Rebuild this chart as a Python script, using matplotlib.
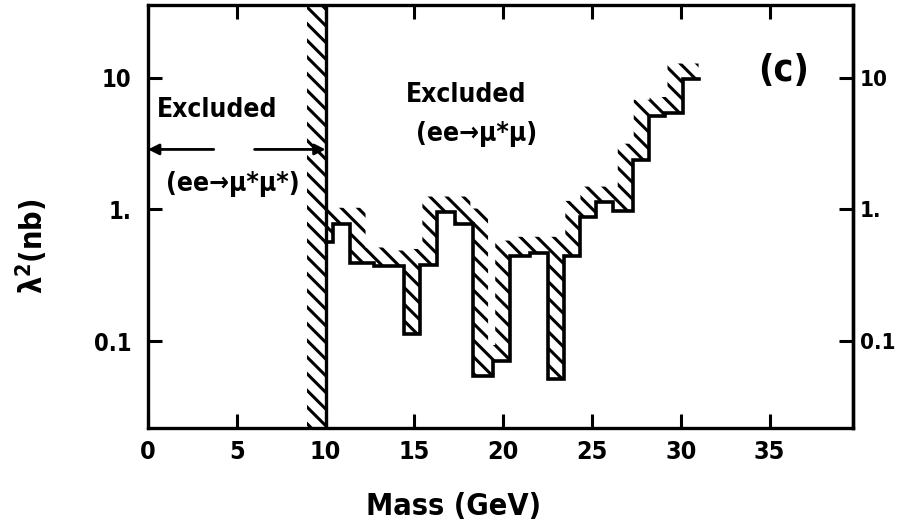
import numpy as np
import matplotlib
matplotlib.use("Agg")
import matplotlib.pyplot as plt
from matplotlib import font_manager as fm

# ---- data -------------------------------------------------------------
# excited-muon limit: step edges (GeV) and lambda^2 limit (nb) per step
mass_edges = [10.0, 10.4, 11.4, 12.7, 14.4, 15.3, 16.3, 17.3, 18.3, 19.4,
              20.4, 21.5, 22.5, 23.4, 24.35, 25.2, 26.2, 27.3, 28.2, 29.1,
              30.1, 31.0]
lambda2_limit = [0.57, 0.78, 0.39, 0.37, 0.113, 0.38, 0.95, 0.77, 0.054,
                 0.071, 0.44, 0.47, 0.052, 0.44, 0.88, 1.13, 0.97, 2.39,
                 5.15, 5.4, 9.7]
pair_limit_mass = 10.0          # ee -> mu* mu* excluded below this mass

x_ticks = [0, 5, 10, 15, 20, 25, 30, 35]
y_ticks = [0.1, 1, 10]
y_tick_labels = ["0.1", "1.", "10"]

# ---- fonts ------------------------------------------------------------
names = {f.name for f in fm.fontManager.ttflist}
if "Liberation Sans Narrow" in names:
    FAM, STRETCH = "Liberation Sans Narrow", "normal"
else:
    FAM, STRETCH = "DejaVu Sans", "condensed"
plt.rcParams["font.family"] = [FAM, "DejaVu Sans"]
plt.rcParams["font.stretch"] = STRETCH
plt.rcParams["font.weight"] = "bold"
plt.rcParams["axes.labelweight"] = "bold"
plt.rcParams["hatch.linewidth"] = 2.2
plt.rcParams["hatch.color"] = "black"

fig = plt.figure(figsize=(8.97, 5.25), dpi=100)
ax = fig.add_axes([0.165, 0.185, 0.786, 0.806])
ax.set_yscale("log")
ax.set_xlim(0, 39.7)
ax.set_ylim(0.022, 35.7)

# ---- limit curve ------------------------------------------------------
edges = np.array(mass_edges)
vals = np.array(lambda2_limit)
step_y = np.append(vals, vals[-1])
ax.step(edges, step_y, where="post", color="black", lw=2.6,
        solid_joinstyle="miter", zorder=3)

# hatched band on the excluded side of the curve
logv = np.log10(vals)
xs = np.linspace(edges[0], edges[-1], 6000)
idx = np.clip(np.searchsorted(edges, xs, side="right") - 1, 0, len(vals) - 1)
lo = logv[idx]
w, h = 0.85, 0.12
overlap = (edges[:-1][None, :] <= xs[:, None] + w) & \
          (edges[1:][None, :] >= xs[:, None] - w)
hi = np.where(overlap, logv[None, :], -np.inf).max(axis=1) + h
ax.fill_between(xs, 10 ** lo, 10 ** hi, facecolor="none", edgecolor="black",
                hatch="\\\\", linewidth=0, zorder=2)

# pair-production limit: vertical wall with hatching on the excluded side
ax.axvline(pair_limit_mass, color="black", lw=2.4, zorder=3)
ax.fill_betweenx([0.022, 35.7], pair_limit_mass - 1.05, pair_limit_mass,
                 facecolor="none", edgecolor="black", hatch="\\\\",
                 linewidth=0, zorder=2)

# ---- annotations ------------------------------------------------------
fs = 19
ax.text(3.9, 5.7, "Excluded", ha="center", va="center", fontsize=fs)
ax.text(4.75, 1.55, "(ee\u2192\u03bc*\u03bc*)", ha="center", va="center",
        fontsize=fs)
ax.annotate("", xy=(0, 2.85), xytext=(3.7, 2.85),
            arrowprops=dict(arrowstyle="-|>", lw=2, color="black",
                            mutation_scale=16, shrinkA=0, shrinkB=0))
ax.annotate("", xy=(pair_limit_mass, 2.85), xytext=(6.0, 2.85),
            arrowprops=dict(arrowstyle="-|>", lw=2, color="black",
                            mutation_scale=16, shrinkA=0, shrinkB=0))
ax.text(17.9, 7.4, "Excluded", ha="center", va="center", fontsize=fs)
ax.text(18.5, 3.7, "(ee\u2192\u03bc*\u03bc)", ha="center", va="center",
        fontsize=fs)
ax.text(35.8, 11.3, "(c)", ha="center", va="center", fontsize=27,
        fontweight="heavy")

# ---- axes styling -----------------------------------------------------
ax.set_xticks(x_ticks)
ax.set_xticklabels([str(t) for t in x_ticks])
ax.set_yticks(y_ticks)
ax.set_yticklabels(y_tick_labels)
ax.yaxis.set_minor_locator(matplotlib.ticker.NullLocator())
ax.tick_params(axis="both", which="major", direction="in", width=2.2,
               length=10, labelsize=18, top=True, right=False)
ax.tick_params(axis="x", pad=9)
ax.tick_params(axis="y", pad=12, labelsize=17)
for s in ax.spines.values():
    s.set_linewidth(2.4)

# duplicate lambda^2 scale on the right-hand frame
rax = ax.secondary_yaxis("right")
rax.set_yticks(y_ticks)
rax.set_yticklabels(y_tick_labels)
rax.yaxis.set_minor_locator(matplotlib.ticker.NullLocator())
rax.tick_params(axis="y", which="major", direction="in", width=2.2,
                length=10, labelsize=16, pad=5)
rax.spines["right"].set_linewidth(2.4)

ax.set_xlabel("Mass (GeV)", fontsize=22)
ax.set_ylabel("\u03bb$^2$(nb)", fontsize=22)
ax.xaxis.set_label_coords(0.434, -0.151)
ax.yaxis.set_label_coords(-0.139, 0.43)

fig.savefig("out.png", dpi=100)
